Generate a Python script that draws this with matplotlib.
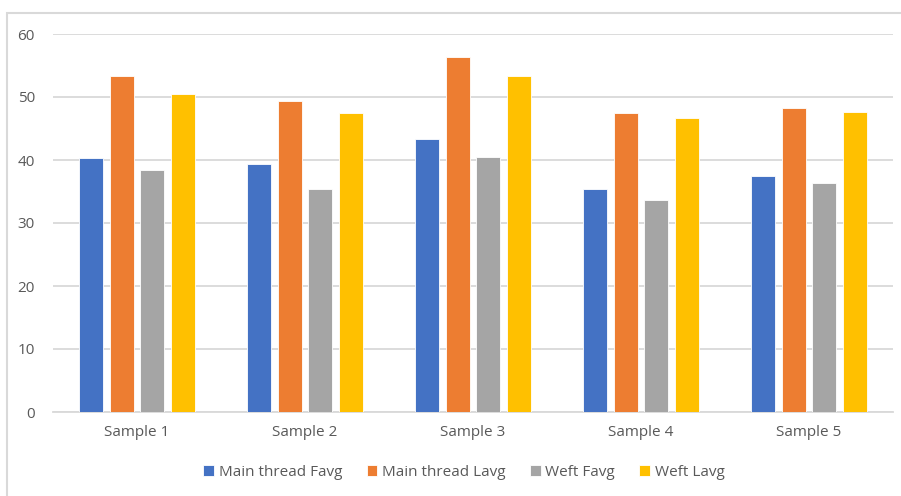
import matplotlib
matplotlib.use("Agg")
import matplotlib.pyplot as plt
from matplotlib.patches import Rectangle
import numpy as np

categories = ["Sample 1", "Sample 2", "Sample 3", "Sample 4", "Sample 5"]
series_names = ["Main thread Favg", "Main thread Lavg", "Weft Favg", "Weft Lavg"]
main_favg = [40.3, 39.3, 43.3, 35.4, 37.5]
main_lavg = [53.3, 49.4, 56.3, 47.4, 48.3]
weft_favg = [38.4, 35.4, 40.5, 33.6, 36.3]
weft_lavg = [50.4, 47.4, 53.3, 46.6, 47.6]
yticks = [0, 10, 20, 30, 40, 50, 60]

colors = ["#4472C4", "#ED7D31", "#A5A5A5", "#FFC000"]
text_color = "#595959"
grid_color = "#D9D9D9"

plt.rcParams["font.family"] = ["Open Sans", "DejaVu Sans"]

fig = plt.figure(figsize=(9.01, 4.96), dpi=100)
W, H = 901, 496

# chart frame
fig.patches.append(Rectangle((7 / W, -0.1), 1.0, 1 - 13 / H + 0.1,
                             transform=fig.transFigure, fill=False,
                             edgecolor=grid_color, linewidth=1.5))

ax = fig.add_axes([53 / W, 1 - 412 / H, (893 - 53) / W, (412 - 34) / H])

x = np.arange(len(categories))
pitch = 0.182
width = 0.145
for i, (name, vals) in enumerate(zip(series_names, [main_favg, main_lavg, weft_favg, weft_lavg])):
    ax.bar(x + (i - 1.5) * pitch, vals, width=width, color=colors[i],
           label=name, zorder=3, edgecolor="white", linewidth=0.6)

ax.set_xlim(-0.5, len(categories) - 0.5)
ax.set_ylim(0, 60)
ax.set_yticks(yticks)
ax.set_xticks(x)
ax.set_xticklabels(categories)
ax.yaxis.grid(True, color=grid_color, linewidth=1.3, zorder=0)
ax.set_axisbelow(True)
for s in ["top", "right", "left"]:
    ax.spines[s].set_visible(False)
ax.spines["bottom"].set_color(grid_color)
ax.spines["bottom"].set_linewidth(1.3)
ax.tick_params(axis="both", length=0, colors=text_color, labelsize=11)
ax.tick_params(axis="x", pad=9)
ax.tick_params(axis="y", pad=13)

leg = fig.legend(loc="center", bbox_to_anchor=(464 / W, 1 - 472 / H), ncol=4,
                 frameon=False, fontsize=11, handlelength=0.7, handleheight=0.7,
                 handletextpad=0.3, columnspacing=1.6)
for t in leg.get_texts():
    t.set_color(text_color)

fig.savefig("out.png", dpi=100, facecolor="white")
